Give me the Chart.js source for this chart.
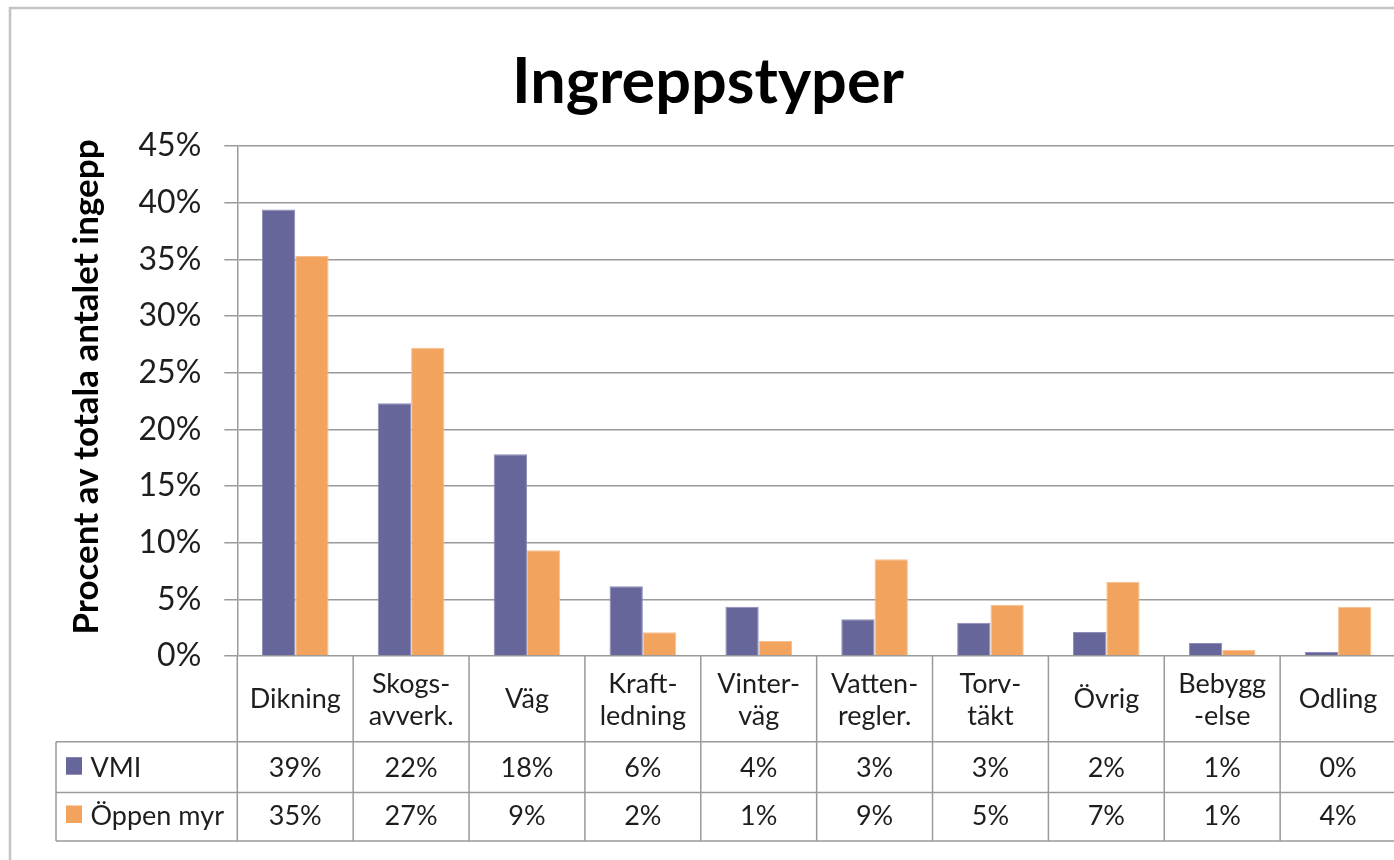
<!DOCTYPE html>
<html>
<head>
<meta charset="utf-8">
<script src="https://cdn.jsdelivr.net/npm/chart.js@4.4.1/dist/chart.umd.min.js"></script>
<style>
html, body { margin: 0; padding: 0; background: #fff; overflow: hidden; }
#wrap { width: 1394px; height: 860px; overflow: hidden; }
canvas { display: block; }
</style>
</head>
<body>
<div id="wrap"><canvas id="IngreppCanvas" width="1396" height="860"></canvas></div>
<script>
// Categories, split into lines the way the data table shows them
const categories = [
    ['Dikning'], ['Skogs-', 'avverk.'], ['Väg'], ['Kraft-', 'ledning'], ['Vinter-', 'väg'],
    ['Vatten-', 'regler.'], ['Torv-', 'täkt'], ['Övrig'], ['Bebygg', '-else'], ['Odling']
];
// Percent of all interventions
const vmiValues   = [39.4, 22.3, 17.8, 6.15, 4.35, 3.24, 2.94, 2.12, 1.15, 0.35];
const oppenValues = [35.3, 27.2, 9.33, 2.1, 1.32, 8.53, 4.53, 6.55, 0.53, 4.35];
const seriesNames = ['VMI', 'Öppen myr'];
const yTicks = [0, 5, 10, 15, 20, 25, 30, 35, 40, 45];

const chartTitle = 'Ingreppstyper';
const yTitle = 'Procent av totala antalet ingepp';

const lineColor = '#9a9a9a';
const textColor = '#1e1e1e';

// Title, y axis title and the data table under the plot
const dataTablePlugin = {
    id: 'dataTable',
    beforeDraw(chart) {
        const ctx = chart.ctx;
        ctx.save();
        ctx.fillStyle = '#fff';
        ctx.fillRect(0, 0, chart.width, chart.height);
        // outer chart frame (only top and left are visible)
        ctx.strokeStyle = '#c4c4c4';
        ctx.lineWidth = 2.5;
        ctx.beginPath();
        ctx.moveTo(10, chart.height + 5);
        ctx.lineTo(10, 8);
        ctx.lineTo(chart.width + 5, 8);
        ctx.stroke();
        ctx.restore();
    },
    afterDraw(chart) {
        const ctx = chart.ctx;
        const area = chart.chartArea;
        const xScale = chart.scales.x;
        const colW = xScale.width / categories.length;
        const top = area.bottom;
        const row1 = top + 85.7;
        const row2 = top + 136.5;
        const bottom = top + 185;
        const legendLeft = 56;

        ctx.save();
        // chart title
        ctx.fillStyle = '#000';
        ctx.font = 'bold 63px Lato';
        ctx.textAlign = 'center';
        ctx.textBaseline = 'alphabetic';
        ctx.fillText(chartTitle, 708, 103);

        // y axis title
        ctx.save();
        ctx.translate(98, 387);
        ctx.rotate(-Math.PI / 2);
        ctx.font = 'bold 35px Lato';
        ctx.fillText(yTitle, 0, 0);
        ctx.restore();

        // table grid
        ctx.strokeStyle = lineColor;
        ctx.lineWidth = 1.5;
        ctx.beginPath();
        [row1, row2, bottom].forEach(y => {
            ctx.moveTo(legendLeft, y);
            ctx.lineTo(area.right, y);
        });
        ctx.moveTo(legendLeft, row1);
        ctx.lineTo(legendLeft, bottom);
        for (let i = 0; i <= categories.length; i++) {
            const x = xScale.left + i * colW;
            ctx.moveTo(x, top);
            ctx.lineTo(x, bottom);
        }
        ctx.stroke();

        // category labels
        ctx.fillStyle = textColor;
        ctx.font = '27px Lato';
        ctx.textAlign = 'center';
        categories.forEach((lines, i) => {
            const x = xScale.getPixelForValue(i);
            if (lines.length === 1) {
                ctx.fillText(lines[0], x, top + 52);
            } else {
                ctx.fillText(lines[0], x, top + 37);
                ctx.fillText(lines[1], x, top + 69);
            }
        });

        // values
        const rows = [vmiValues, oppenValues];
        const baselines = [row1 + 35, row2 + 32.5];
        rows.forEach((vals, r) => {
            vals.forEach((v, i) => {
                ctx.fillText(Math.round(v) + '%', xScale.getPixelForValue(i), baselines[r]);
            });
        });

        // legend keys
        ctx.textAlign = 'left';
        chart.data.datasets.forEach((ds, r) => {
            ctx.fillStyle = ds.backgroundColor;
            ctx.fillRect(66, baselines[r] - 19.5, 16, 17.5);
            ctx.fillStyle = textColor;
            ctx.fillText(seriesNames[r], 90.5, baselines[r]);
        });
        ctx.restore();
    }
};

new Chart(
    document.getElementById('IngreppCanvas'),
    {
        type: 'bar',
        data: {
            labels: categories,
            datasets: [
                {
                    label: seriesNames[0],
                    data: vmiValues,
                    backgroundColor: '#66669a',
                    borderColor: '#8d8db8',
                    borderWidth: 1
                },
                {
                    label: seriesNames[1],
                    data: oppenValues,
                    backgroundColor: '#f2a35e',
                    borderColor: '#f8c08e',
                    borderWidth: 1
                }
            ]
        },
        options: {
            responsive: false,
            animation: false,
            devicePixelRatio: 1,
            layout: {padding: {top: 146, bottom: 204, left: 0, right: 0}},
            datasets: {bar: {categoryPercentage: 0.575, barPercentage: 1.0}},
            plugins: {
                legend: {display: false},
                title: {display: false},
                tooltip: {enabled: false}
            },
            scales: {
                x: {
                    ticks: {display: false},
                    grid: {display: false},
                    border: {display: false},
                    afterFit(scale) { scale.height = 0; }
                },
                y: {
                    min: 0,
                    max: 45,
                    afterBuildTicks(scale) { scale.ticks = yTicks.map(v => ({value: v})); },
                    ticks: {
                        callback: v => v + '%',
                        font: {family: 'Lato', size: 32},
                        color: textColor,
                        padding: 23
                    },
                    grid: {color: lineColor, lineWidth: 1.5, tickLength: 13},
                    border: {color: lineColor, width: 1.5},
                    afterFit(scale) { scale.width = 237.3; }
                }
            }
        },
        plugins: [dataTablePlugin]
    }
);
</script>
</body>
</html>
